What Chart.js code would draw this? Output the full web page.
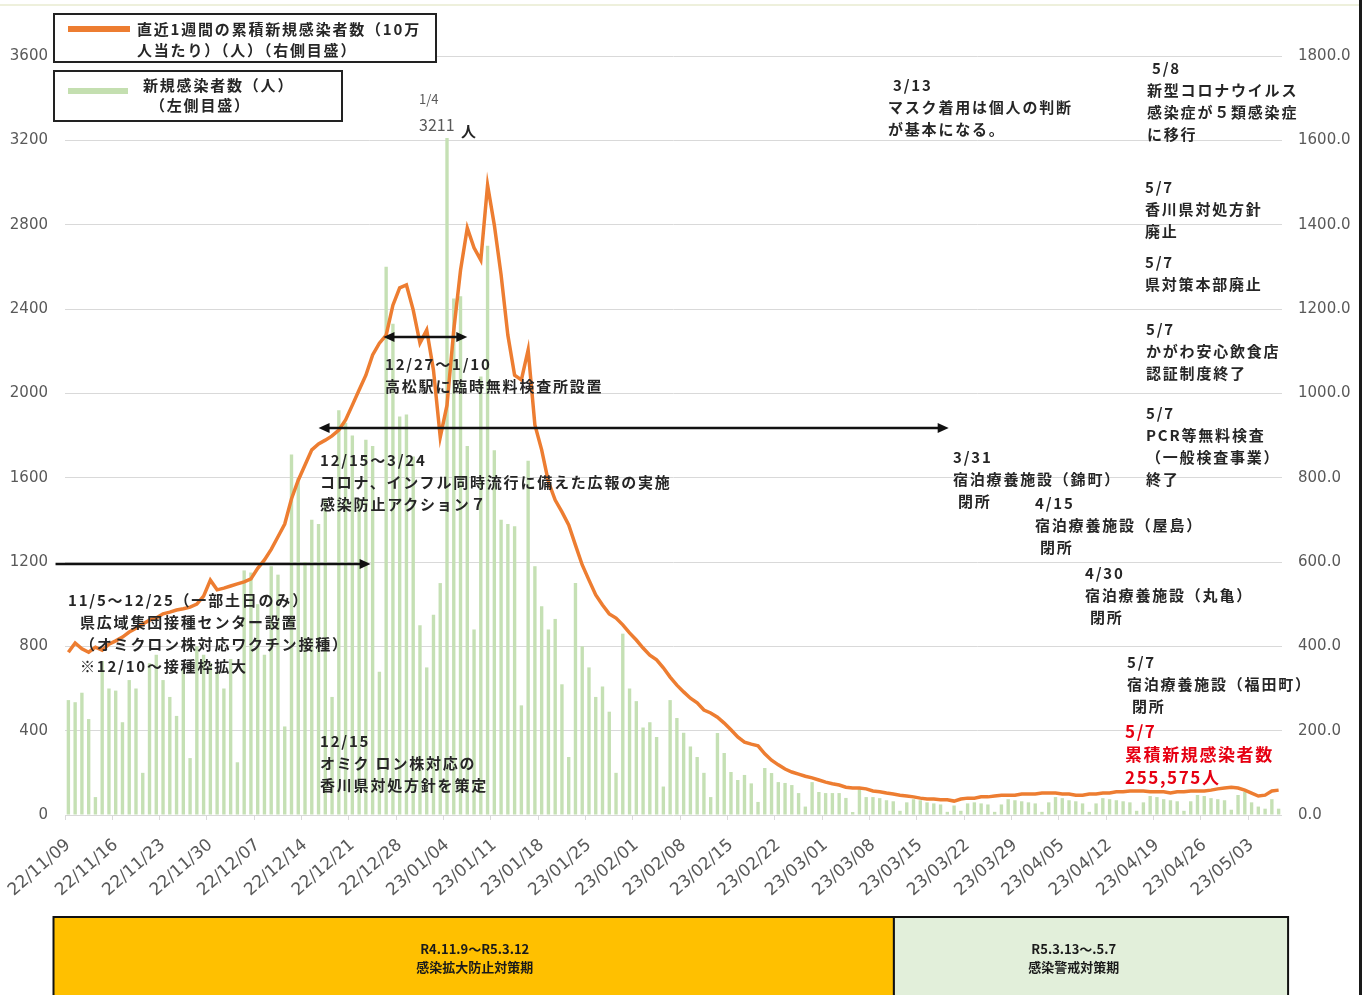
<!DOCTYPE html>
<html lang="ja">
<head>
<meta charset="utf-8">
<title>新規感染者数の推移</title>
<script src="https://cdn.jsdelivr.net/npm/chart.js@4.4.1/dist/chart.umd.min.js"></script>
<style>
  html, body { margin: 0; padding: 0; background: #fff; }
  #wrap { position: relative; width: 1367px; height: 995px; overflow: hidden; }
  #chart { position: absolute; left: 0; top: 0; }
  .note {
    position: absolute;
    font-family: 'Noto Sans CJK JP', sans-serif;
    font-weight: 700;
    font-size: 15px;
    line-height: 22px;
    letter-spacing: 1.8px;
    color: #262626;
    white-space: nowrap;
  }
  .red { color: #e60012; font-size: 17px; line-height: 23px; letter-spacing: 1.6px; }
  .legend {
    position: absolute;
    border: 2px solid #222;
    box-sizing: border-box;
    background: #fff;
  }
  .swatch { position: absolute; height: 6px; }
  #topline { position: absolute; left: 0; top: 4px; width: 1359px; height: 2px; background: #eef0dc; }
  #rightline { position: absolute; left: 1359px; top: 0; width: 3px; height: 995px; background: #1a1a1a; }
</style>
</head>
<body>
<div id="wrap">
  <canvas id="chart" width="1367" height="995"></canvas>
  <div id="topline"></div>
  <div id="rightline"></div>

  <div class="legend" style="left:53px;top:13px;width:384px;height:50px;"></div>
  <div class="swatch" style="left:68px;top:26px;width:62px;background:#ed7d31;"></div>
  <div class="note" style="left:137px;top:18px;line-height:21px;">直近1週間の累積新規感染者数（10万<br>人当たり）（人）（右側目盛）</div>

  <div class="legend" style="left:53px;top:70px;width:290px;height:52px;"></div>
  <div class="swatch" style="left:68px;top:88px;width:60px;background:#c4dfb0;"></div>
  <div class="note" style="left:143px;top:75px;line-height:20px;">新規感染者数（人）<br><span style="margin-left:7px">（左側目盛）</span></div>

  <div class="note" style="left:419px;top:88px;font-size:13px;font-weight:400;color:#595959;letter-spacing:0;">1/4</div>
  <div class="note" style="left:419px;top:113px;font-size:16px;font-weight:400;color:#595959;letter-spacing:0;">3211</div>
  <div class="note" style="left:461px;top:120px;">人</div>

  <div class="note" style="left:385px;top:353px;">12/27～1/10<br>高松駅に臨時無料検査所設置</div>
  <div class="note" style="left:320px;top:449px;">12/15～3/24<br>コロナ、インフル同時流行に備えた広報の実施<br>感染防止アクション７</div>
  <div class="note" style="left:68px;top:589px;">11/5～12/25（一部土日のみ）<br><span style="margin-left:12px">県広域集団接種センター設置</span><br><span style="margin-left:12px">（オミクロン株対応ワクチン接種）</span><br><span style="margin-left:12px">※12/10～接種枠拡大</span></div>
  <div class="note" style="left:320px;top:730px;">12/15<br>オミク ロン株対応の<br>香川県対処方針を策定</div>

  <div class="note" style="left:888px;top:74px;"><span style="margin-left:5px">3/13</span><br>マスク着用は個人の判断<br>が基本になる。</div>
  <div class="note" style="left:1147px;top:57px;"><span style="margin-left:5px">5/8</span><br>新型コロナウイルス<br>感染症が５類感染症<br>に移行</div>
  <div class="note" style="left:1145px;top:176px;">5/7<br>香川県対処方針<br>廃止</div>
  <div class="note" style="left:1145px;top:251px;">5/7<br>県対策本部廃止</div>
  <div class="note" style="left:1146px;top:318px;">5/7<br>かがわ安心飲食店<br>認証制度終了</div>
  <div class="note" style="left:1146px;top:402px;">5/7<br>PCR等無料検査<br>（一般検査事業）<br>終了</div>
  <div class="note" style="left:953px;top:446px;">3/31<br>宿泊療養施設（錦町）<br><span style="margin-left:5px">閉所</span></div>
  <div class="note" style="left:1035px;top:492px;">4/15<br>宿泊療養施設（屋島）<br><span style="margin-left:5px">閉所</span></div>
  <div class="note" style="left:1085px;top:562px;">4/30<br>宿泊療養施設（丸亀）<br><span style="margin-left:5px">閉所</span></div>
  <div class="note" style="left:1127px;top:651px;">5/7<br>宿泊療養施設（福田町）<br><span style="margin-left:5px">閉所</span></div>
  <div class="note red" style="left:1125px;top:719px;">5/7<br>累積新規感染者数<br>255,575人</div>
</div>

<script>
// daily dates 22/11/09 - 23/05/07
const dates = [
  '22/11/09','22/11/10','22/11/11','22/11/12','22/11/13','22/11/14','22/11/15','22/11/16','22/11/17','22/11/18',
  '22/11/19','22/11/20','22/11/21','22/11/22','22/11/23','22/11/24','22/11/25','22/11/26','22/11/27','22/11/28',
  '22/11/29','22/11/30',
  '22/12/01','22/12/02','22/12/03','22/12/04','22/12/05','22/12/06','22/12/07','22/12/08','22/12/09','22/12/10',
  '22/12/11','22/12/12','22/12/13','22/12/14','22/12/15','22/12/16','22/12/17','22/12/18','22/12/19','22/12/20',
  '22/12/21','22/12/22','22/12/23','22/12/24','22/12/25','22/12/26','22/12/27','22/12/28','22/12/29','22/12/30',
  '22/12/31',
  '23/01/01','23/01/02','23/01/03','23/01/04','23/01/05','23/01/06','23/01/07','23/01/08','23/01/09','23/01/10',
  '23/01/11','23/01/12','23/01/13','23/01/14','23/01/15','23/01/16','23/01/17','23/01/18','23/01/19','23/01/20',
  '23/01/21','23/01/22','23/01/23','23/01/24','23/01/25','23/01/26','23/01/27','23/01/28','23/01/29','23/01/30',
  '23/01/31',
  '23/02/01','23/02/02','23/02/03','23/02/04','23/02/05','23/02/06','23/02/07','23/02/08','23/02/09','23/02/10',
  '23/02/11','23/02/12','23/02/13','23/02/14','23/02/15','23/02/16','23/02/17','23/02/18','23/02/19','23/02/20',
  '23/02/21','23/02/22','23/02/23','23/02/24','23/02/25','23/02/26','23/02/27','23/02/28',
  '23/03/01','23/03/02','23/03/03','23/03/04','23/03/05','23/03/06','23/03/07','23/03/08','23/03/09','23/03/10',
  '23/03/11','23/03/12','23/03/13','23/03/14','23/03/15','23/03/16','23/03/17','23/03/18','23/03/19','23/03/20',
  '23/03/21','23/03/22','23/03/23','23/03/24','23/03/25','23/03/26','23/03/27','23/03/28','23/03/29','23/03/30',
  '23/03/31',
  '23/04/01','23/04/02','23/04/03','23/04/04','23/04/05','23/04/06','23/04/07','23/04/08','23/04/09','23/04/10',
  '23/04/11','23/04/12','23/04/13','23/04/14','23/04/15','23/04/16','23/04/17','23/04/18','23/04/19','23/04/20',
  '23/04/21','23/04/22','23/04/23','23/04/24','23/04/25','23/04/26','23/04/27','23/04/28','23/04/29','23/04/30',
  '23/05/01','23/05/02','23/05/03','23/05/04','23/05/05','23/05/06','23/05/07'
];

// new cases per day (left axis)
const dailyCases = [
  545, 535, 580, 455, 85, 730, 600, 590, 440, 640,
  600, 200, 720, 760, 640, 560, 470, 700, 270, 800,
  760, 720, 680, 600, 740, 250, 1160, 1150, 1000, 760,
  1180, 1140, 420, 1710, 1600, 1200, 1400, 1380, 1500, 560,
  1920, 1860, 1800, 1500, 1780, 1750, 680, 2600, 2330, 1890,
  1900, 1700, 900, 700, 950, 1100, 3211, 2450, 2460, 1750,
  880, 2080, 2700, 1730, 1400, 1380, 1370, 520, 1680, 1180,
  990, 880, 930, 620, 275, 1100, 800, 700, 560, 610,
  490, 200, 860, 600, 540, 415, 440, 370, 135, 545,
  460, 390, 325, 275, 200, 85, 389, 294, 204, 166,
  190, 150, 62, 223, 199, 156, 152, 142, 104, 40,
  156, 109, 104, 104, 104, 81, 14, 133, 85, 85,
  80, 70, 65, 20, 60, 75, 70, 60, 55, 50,
  15, 45, 20, 55, 60, 55, 50, 15, 50, 75,
  70, 65, 60, 55, 15, 60, 85, 80, 70, 65,
  55, 15, 55, 80, 75, 70, 65, 60, 20, 60,
  90, 85, 75, 70, 65, 20, 65, 95, 90, 80,
  75, 70, 25, 95, 110, 60, 40, 30, 75, 30
];

// 7-day cumulative new cases per 100k (right axis)
const weeklyPer100k = [
  386, 408, 394, 386, 398, 391, 405, 413, 422, 434,
  443, 453, 462, 467, 477, 481, 486, 489, 493, 500,
  519, 557, 534, 538, 543, 548, 553, 560, 585, 605,
  630, 660, 690, 750, 794, 830, 866, 880, 889, 899,
  913, 937, 972, 1008, 1043, 1091, 1119, 1138, 1209, 1250,
  1257, 1198, 1119, 1150, 1055, 896, 972, 1150, 1292, 1392,
  1345, 1316, 1494, 1399, 1281, 1138, 1043, 1032, 1103, 925,
  866, 790, 747, 719, 688, 640, 593, 557, 522, 498,
  477, 467, 451, 432, 415, 396, 379, 368, 349, 327,
  308, 292, 277, 266, 249, 242, 232, 218, 202, 185,
  173, 168, 164, 145, 130, 119, 109, 102, 97, 92,
  88, 83, 78, 74, 71, 66, 64, 64, 62, 57,
  55, 52, 50, 47, 45, 43, 40, 38, 38, 36,
  36, 33, 38, 40, 40, 43, 43, 45, 47, 47,
  47, 50, 50, 50, 52, 52, 52, 50, 50, 47,
  47, 50, 50, 52, 52, 55, 55, 57, 57, 57,
  55, 55, 55, 52, 55, 55, 57, 57, 57, 59,
  62, 64, 66, 64, 59, 52, 45, 47, 57, 59
];

const leftTicks = { min: 0, max: 3600, step: 400 };
const rightTicks = { min: 0, max: 1800, step: 200 };

// arrows: category index span and left-axis level
const arrows = [
  { from: -1.9, to: 44.7, level: 1190, heads: 'end' },
  { from: 37.0, to: 130.2, level: 1835, heads: 'both' },
  { from: 46.6, to: 59.0, level: 2267, heads: 'both' }
];

// policy periods shown under the axis (index span, text centre index)
const periods = [
  { from: -2.2, to: 122.1, textAt: 60.1, color: '#ffc000', text: ['R4.11.9～R5.3.12', '感染拡大防止対策期'] },
  { from: 122.1, to: 180.4, textAt: 148.7, color: '#e2efda', text: ['R5.3.13～.5.7', '感染警戒対策期'] }
];

function arrowHead(ctx, x, y, dir) {
  ctx.beginPath();
  ctx.moveTo(x, y);
  ctx.lineTo(x - dir * 11, y - 5);
  ctx.lineTo(x - dir * 11, y + 5);
  ctx.closePath();
  ctx.fill();
}

const annotations = {
  id: 'annotations',
  afterDatasetsDraw(chart) {
    const { ctx, scales } = chart;
    ctx.save();
    ctx.strokeStyle = '#111';
    ctx.fillStyle = '#111';
    ctx.lineWidth = 2.5;
    arrows.forEach(a => {
      const x1 = scales.x.getPixelForValue(a.from);
      const x2 = scales.x.getPixelForValue(a.to);
      const yy = scales.y.getPixelForValue(a.level);
      ctx.beginPath();
      ctx.moveTo(a.heads === 'both' ? x1 + 6 : x1, yy);
      ctx.lineTo(x2 - 6, yy);
      ctx.stroke();
      arrowHead(ctx, x2, yy, 1);
      if (a.heads === 'both') arrowHead(ctx, x1, yy, -1);
    });
    ctx.restore();
  },
  afterDraw(chart) {
    const { ctx, scales, chartArea } = chart;
    const top = chartArea.bottom + 102;
    const h = chart.height - top + 4;
    ctx.save();
    periods.forEach(p => {
      const x1 = scales.x.getPixelForValue(p.from);
      const x2 = scales.x.getPixelForValue(p.to);
      ctx.fillStyle = p.color;
      ctx.fillRect(x1, top, x2 - x1, h);
      ctx.strokeStyle = '#111';
      ctx.lineWidth = 2;
      ctx.strokeRect(x1, top, x2 - x1, h);
      ctx.fillStyle = '#1a1a1a';
      ctx.font = 'bold 13px "Noto Sans CJK JP", sans-serif';
      ctx.textAlign = 'center';
      ctx.textBaseline = 'middle';
      const cx = scales.x.getPixelForValue(p.textAt);
      ctx.fillText(p.text[0], cx, top + 32);
      ctx.fillText(p.text[1], cx, top + 50);
    });
    ctx.restore();
  }
};

const axisFont = { family: '"DejaVu Sans", sans-serif', size: 15 };

new Chart(document.getElementById('chart'), {
  data: {
    labels: dates,
    datasets: [
      {
        type: 'line',
        label: '直近1週間の累積新規感染者数（10万人当たり）（人）（右側目盛）',
        data: weeklyPer100k,
        yAxisID: 'y2',
        borderColor: '#ed7d31',
        borderWidth: 3.5,
        pointRadius: 0,
        tension: 0,
        order: 0
      },
      {
        type: 'bar',
        label: '新規感染者数（人）（左側目盛）',
        data: dailyCases,
        yAxisID: 'y',
        backgroundColor: '#c5e0b4',
        barPercentage: 0.5,
        categoryPercentage: 1,
        order: 1
      }
    ]
  },
  options: {
    responsive: false,
    animation: false,
    layout: { padding: { top: 56, left: 0, right: 0, bottom: 0 } },
    plugins: { legend: { display: false }, tooltip: { enabled: false } },
    scales: {
      x: {
        offset: true,
        border: { display: false },
        grid: {
          drawOnChartArea: false,
          drawTicks: true,
          tickLength: 5,
          color: ctx => (ctx.index % 7 === 0 ? '#d9d9d9' : 'rgba(0,0,0,0)')
        },
        ticks: {
          autoSkip: false,
          minRotation: 41,
          maxRotation: 41,
          padding: 15,
          color: '#595959',
          font: { family: '"DejaVu Sans", sans-serif', size: 17 },
          callback: (v, i) => (i % 7 === 0 ? dates[i] : '')
        },
        afterFit(s) {
          s.height = 180;
          s.paddingLeft = 0;
          s.paddingRight = 0;
        }
      },
      y: {
        position: 'left',
        min: leftTicks.min,
        max: leftTicks.max,
        border: { display: false },
        grid: { color: '#d9d9d9', drawTicks: false },
        ticks: { stepSize: leftTicks.step, padding: 17, color: '#595959', font: axisFont,
          callback: v => String(v) },
        afterFit(s) { s.width = 65; }
      },
      y2: {
        position: 'right',
        min: rightTicks.min,
        max: rightTicks.max,
        border: { display: false },
        grid: { display: false, drawTicks: false },
        ticks: { stepSize: rightTicks.step, padding: 16, color: '#595959', font: axisFont,
          callback: v => v.toFixed(1) },
        afterFit(s) { s.width = 85; }
      }
    }
  },
  plugins: [annotations]
});
</script>
</body>
</html>
